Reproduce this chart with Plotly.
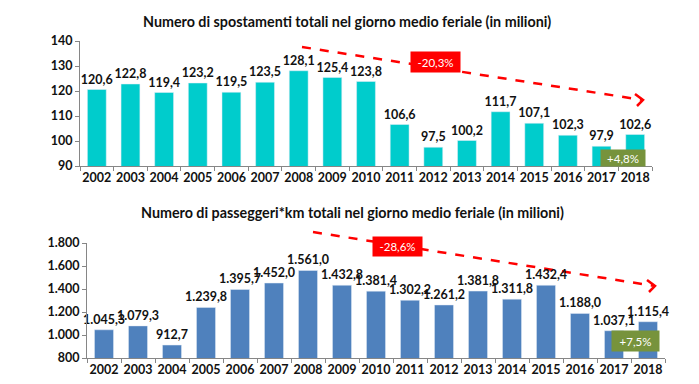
import plotly.graph_objects as go

years = [str(y) for y in range(2002, 2019)]
spostamenti = [120.6, 122.8, 119.4, 123.2, 119.5, 123.5, 128.1, 125.4, 123.8,
               106.6, 97.5, 100.2, 111.7, 107.1, 102.3, 97.9, 102.6]
passeggeri_km = [1045.3, 1079.3, 912.7, 1239.8, 1395.7, 1452.0, 1561.0, 1432.8, 1381.4,
                 1302.2, 1261.2, 1381.8, 1311.8, 1432.4, 1188.0, 1037.1, 1115.4]
title_top = "Numero di spostamenti totali nel giorno medio feriale (in milioni)"
title_bottom = "Numero di passeggeri*km totali nel giorno medio feriale (in milioni)"
top_changes = ["-20,3%", "+4,8%"]
bottom_changes = ["-28,6%", "+7,5%"]

W, H = 699, 384
def px(x):
    return x / W
def py(y):
    return 1 - y / H

FONT = "Lato"
AX = "#868686"
TXT = "#111111"

fig = go.Figure()
fig.add_trace(go.Bar(x=years, y=spostamenti, marker_color="#00CCCC",
                     texttemplate="%{y:.1f}", textposition="outside",
                     constraintext="none", cliponaxis=False,
                     textfont=dict(family=FONT, size=12.5, color=TXT, weight="bold"),
                     xaxis="x", yaxis="y", width=0.56))
fig.add_trace(go.Bar(x=years, y=passeggeri_km, marker_color="#4F81BD",
                     texttemplate="%{y:,.1f}", textposition="outside",
                     constraintext="none", cliponaxis=False,
                     textfont=dict(family=FONT, size=12.5, color=TXT, weight="bold"),
                     xaxis="x2", yaxis="y2", width=0.56))

axis_common = dict(showgrid=False, showline=True, linecolor=AX, linewidth=1,
                   ticks="outside", tickcolor=AX, ticklen=4, tickangle=0,
                   automargin=False,
                   tickfont=dict(family=FONT, size=12.5, color=TXT, weight="bold"))

fig.update_layout(
    width=W, height=H, margin=dict(l=0, r=0, t=0, b=0, pad=0, autoexpand=False),
    paper_bgcolor="white", plot_bgcolor="white", showlegend=False,
    separators=",.",
    xaxis=dict(domain=[px(80), px(652)], anchor="y", type="category",
               tickson="boundaries", **axis_common),
    yaxis=dict(domain=[py(166), py(41)], anchor="x", range=[90, 140], dtick=10,
               zeroline=False, **axis_common),
    xaxis2=dict(domain=[px(87), px(665)], anchor="y2", type="category",
                tickson="boundaries", **axis_common),
    yaxis2=dict(domain=[py(358), py(243)], anchor="x2", range=[800, 1800], dtick=200,
                tickformat=",d", zeroline=False, **axis_common),
)

def label(text, cx, cy, size):
    return dict(text=text, x=px(cx), y=py(cy), xref="paper", yref="paper",
                xanchor="center", yanchor="middle", showarrow=False,
                font=dict(family=FONT, size=size, color=TXT, weight="bold"))

annotations = [
    label(title_top, 347, 22, 14.3),
    label(title_bottom, 352, 212, 14.3),
]

def box(text, cx, cy, w, h, color):
    return dict(text=text, x=px(cx), y=py(cy), xref="paper", yref="paper", showarrow=False,
                xanchor="center", yanchor="middle",
                font=dict(family=FONT, size=11.5, color="white"), bgcolor=color,
                width=w, height=h, borderpad=0)

annotations += [
    box(top_changes[0], 435.5, 62, 49, 20, "#FF0000"),
    box(top_changes[1], 623, 158, 44, 16, "#77933C"),
    box(bottom_changes[0], 397.5, 246.5, 49, 19, "#FF0000"),
    box(bottom_changes[1], 635.5, 341, 47, 20, "#77933C"),
]
fig.update_layout(annotations=annotations)

shapes = []
def dashed_arrow(x0, y0, x1, y1):
    shapes.append(dict(type="line", xref="paper", yref="paper",
                       x0=px(x0), y0=py(y0), x1=px(x1 - 2), y1=py(y1 - 0.3),
                       line=dict(color="#FF0000", width=2.5, dash="dash"), layer="below"))
    path = "M {a},{b} L {c},{d} L {e},{f}".format(
        a=px(x1 - 8), b=py(y1 - 6), c=px(x1), d=py(y1), e=px(x1 - 6), f=py(y1 + 6))
    shapes.append(dict(type="path", xref="paper", yref="paper", path=path,
                       line=dict(color="#FF0000", width=2.5)))

dashed_arrow(302, 47, 643, 100)
dashed_arrow(313, 232, 655, 286)
fig.update_layout(shapes=shapes)

fig.write_html("out.html", config={"displayModeBar": False},
               post_script="document.body.style.margin='0';document.body.style.overflow='hidden';")
